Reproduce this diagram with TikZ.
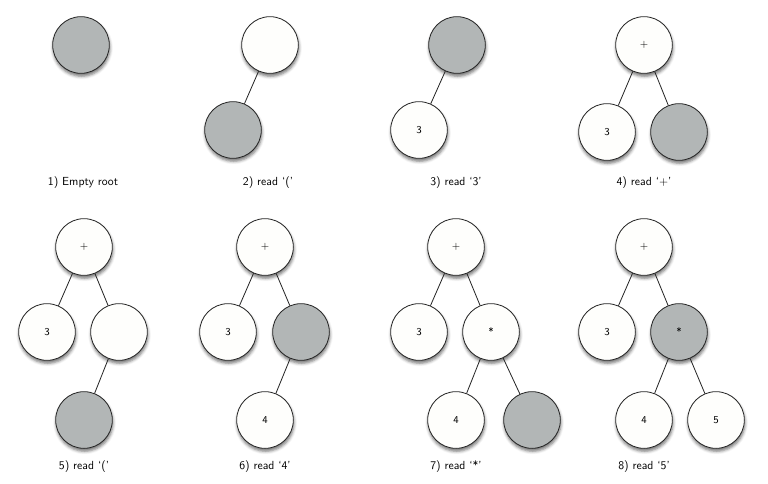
\documentclass[tikz,border=0pt]{standalone}
\usetikzlibrary{shadows.blur}
\definecolor{holegray}{RGB}{178,182,182}
\definecolor{nodewhite}{RGB}{254,254,252}
\begin{document}
\begin{tikzpicture}[x=0.03cm,y=-0.03cm,
		tnode/.style={circle,draw=black!85,line width=0.7pt,fill=nodewhite,minimum size=1.7cm,inner sep=0pt,font=\sffamily\small,
			blur shadow={shadow xshift=0.5pt,shadow yshift=-2.5pt,shadow blur radius=2.5pt,shadow opacity=55}},
		hole/.style={tnode,fill=holegray},
		edge/.style={draw=black!85,line width=0.7pt},
		caption/.style={font=\sffamily}]
		\useasboundingbox (0,0) rectangle (768,484);
		% 1) empty root
		\node[hole] (a1) at (81,45) {};
		\node[caption] at (83,183) {1) Empty root};
		% 2) read (
		\node[tnode] (b1) at (270,45) {};
		\node[hole] (b2) at (233,130) {};
		\draw[edge] (b1) -- (b2);
		\node[caption] at (268,183) {2) read `('};
		% 3) read 3
		\node[hole] (c1) at (457,45) {};
		\node[tnode] (c2) at (419,130) {3};
		\draw[edge] (c1) -- (c2);
		\node[caption] at (456,183) {3) read `3'};
		% 4) read +
		\node[tnode] (d1) at (644,45) {+};
		\node[tnode] (d2) at (607,132) {3};
		\node[hole] (d3) at (679,132) {};
		\draw[edge] (d1) -- (d2);
		\draw[edge] (d1) -- (d3);
		\node[caption] at (644,183) {4) read `+'};
		% 5) read (
		\node[tnode] (e1) at (84,247) {+};
		\node[tnode] (e2) at (47,332) {3};
		\node[tnode] (e3) at (119,332) {};
		\node[hole] (e4) at (84,420) {};
		\draw[edge] (e1) -- (e2);
		\draw[edge] (e1) -- (e3);
		\draw[edge] (e3) -- (e4);
		\node[caption] at (84,467) {5) read `('};
		% 6) read 4
		\node[tnode] (f1) at (265,247) {+};
		\node[tnode] (f2) at (228,332) {3};
		\node[hole] (f3) at (301,332) {};
		\node[tnode] (f4) at (265,420) {4};
		\draw[edge] (f1) -- (f2);
		\draw[edge] (f1) -- (f3);
		\draw[edge] (f3) -- (f4);
		\node[caption] at (265,467) {6) read `4'};
		% 7) read *
		\node[tnode] (g1) at (456,247) {+};
		\node[tnode] (g2) at (419,332) {3};
		\node[tnode] (g3) at (491,332) {*};
		\node[tnode] (g4) at (456,420) {4};
		\node[hole] (g5) at (532,420) {};
		\draw[edge] (g1) -- (g2);
		\draw[edge] (g1) -- (g3);
		\draw[edge] (g3) -- (g4);
		\draw[edge] (g3) -- (g5);
		\node[caption] at (456,467) {7) read `*'};
		% 8) read 5
		\node[tnode] (h1) at (644,247) {+};
		\node[tnode] (h2) at (607,332) {3};
		\node[hole] (h3) at (679,332) {*};
		\node[tnode] (h4) at (644,420) {4};
		\node[tnode] (h5) at (716,420) {5};
		\draw[edge] (h1) -- (h2);
		\draw[edge] (h1) -- (h3);
		\draw[edge] (h3) -- (h4);
		\draw[edge] (h3) -- (h5);
		\node[caption] at (644,467) {8) read `5'};
	\end{tikzpicture}
\end{document}
